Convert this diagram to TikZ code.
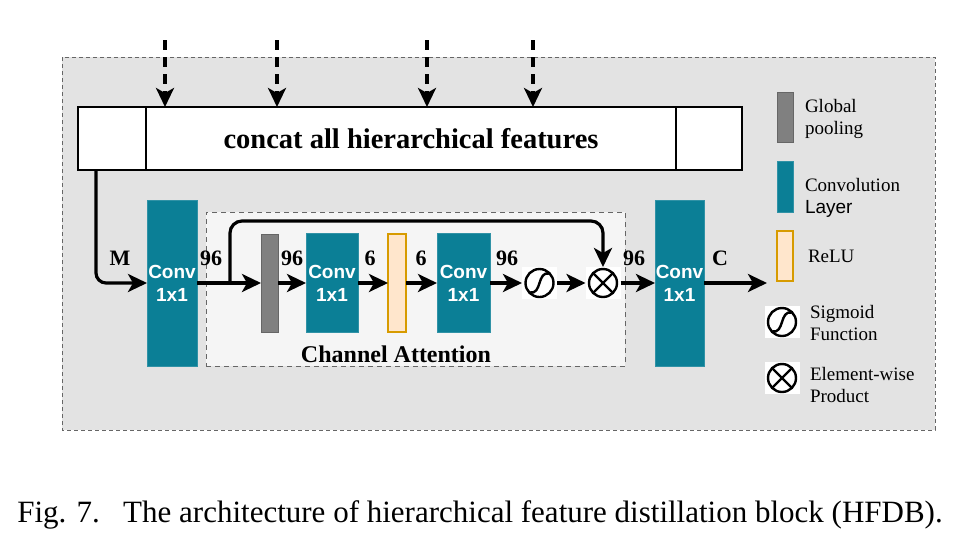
\documentclass[tikz,border=0pt]{standalone}
\usepackage{fontspec}
\setmainfont{Liberation Serif}
\setsansfont{Liberation Sans}
\usetikzlibrary{arrows.meta}
\definecolor{convteal}{RGB}{11,127,150}
\definecolor{poolgray}{RGB}{128,128,128}
\definecolor{relufill}{RGB}{255,230,204}
\definecolor{reluline}{RGB}{215,155,0}
\definecolor{outerfill}{RGB}{227,227,227}
\definecolor{cafill}{RGB}{245,245,245}

\begin{document}
\begin{tikzpicture}
[x=1pt,y=-1pt,%
  every node/.style={inner sep=0pt,outer sep=0pt},%
  conv/.style={rectangle,fill=convteal,draw=convteal!85!white,minimum width=50pt,%
    text=white,align=center,font=\sffamily\bfseries\fontsize{19}{23}\selectfont},%
  pool/.style={rectangle,fill=poolgray,draw=poolgray!80!black,line width=1pt,%
    minimum width=17pt,minimum height=98pt},%
  relu/.style={rectangle,fill=relufill,draw=reluline,line width=1.2pt,%
    minimum width=18pt,minimum height=98pt},%
  icon/.style={rectangle,fill=white,minimum width=35pt,minimum height=32pt},%
  sig/.style={icon,path picture={%
    \draw[line width=2.4pt] (path picture bounding box.center) circle (14pt);
    \draw[line width=2.4pt] ([shift={(-10pt,-9.5pt)}]path picture bounding box.center)
      .. controls ([shift={(3pt,-12pt)}]path picture bounding box.center)
      and ([shift={(-3pt,12pt)}]path picture bounding box.center)
      .. ([shift={(10pt,9.5pt)}]path picture bounding box.center);}},%
  prod/.style={icon,path picture={%
    \draw[line width=2.4pt] (path picture bounding box.center) circle (14pt);
    \draw[line width=2.4pt] ([shift={(-9.9pt,-9.9pt)}]path picture bounding box.center)
      -- ([shift={(9.9pt,9.9pt)}]path picture bounding box.center);
    \draw[line width=2.4pt] ([shift={(-9.9pt,9.9pt)}]path picture bounding box.center)
      -- ([shift={(9.9pt,-9.9pt)}]path picture bounding box.center);}},%
  concat/.style={rectangle,draw,fill=white,line width=1.3pt,minimum height=63pt},%
  lbl/.style={font=\bfseries\fontsize{22}{22}\selectfont},%
  legend/.style={anchor=west,align=left,font=\fontsize{19}{22}\selectfont},%
  arr/.style={-{Stealth[length=19pt,width=18pt,inset=5pt]},line width=3.2pt},%
  dasharr/.style={arr,dash pattern=on 10pt off 7pt}]
\useasboundingbox (0,0) rectangle (962,558);
\draw[fill=outerfill,draw=black!60,line width=0.8pt,dash pattern=on 4pt off 3pt]
  (62,57) rectangle (935,430);
\node[rectangle,fill=cafill,draw=black!60,line width=0.9pt,dash pattern=on 5pt off 4pt,
  minimum width=419pt,minimum height=154pt] (ca) at (415.5,289) {};
\node[font=\bfseries\fontsize{24}{24}\selectfont] (catext) at (396,354) {Channel Attention};

\node[concat,minimum width=68pt] (cl) at (112,138.5) {};
\node[concat,minimum width=530pt,font=\bfseries\fontsize{28.5}{28.5}\selectfont]
  (cm) at (411,138.5) {concat all hierarchical features};
\node[concat,minimum width=66pt] (cr) at (709,138.5) {};
\foreach \i/\x in {1/165,2/277,3/427,4/533}{
  \coordinate (in\i) at (\x,40);
  \draw[dasharr] (in\i) -- (in\i |- cm.north);
}

\node[conv,minimum height=166pt] (conv1) at (172,283) {Conv\\1x1};
\node[pool] (gpool) at (269.5,283) {};
\node[conv,minimum width=52pt,minimum height=99pt] (conv2) at (332,283) {Conv\\1x1};
\node[relu] (relu) at (397,283) {};
\node[conv,minimum width=53pt,minimum height=99pt] (conv3) at (463.5,283) {Conv\\1x1};
\node[sig] (sigm) at (539.5,283) {};
\node[prod] (mul) at (603,283) {};
\node[conv,minimum width=49pt,minimum height=166pt] (conv4) at (679.5,283) {Conv\\1x1};
\coordinate (br) at (230,283);
\coordinate (out) at (767,283);

\draw[arr,rounded corners=10pt] ([xshift=-16pt]cl.south) |- (conv1);
\draw[arr] (conv1) -- (gpool);
\draw[arr,rounded corners=12pt] (br) -- ++(0,-62) -| (mul);
\draw[arr] (gpool) -- (conv2);
\draw[arr] (conv2) -- (relu);
\draw[arr] (relu) -- (conv3);
\draw[arr] (conv3) -- (sigm);
\draw[arr] (sigm) -- (mul);
\draw[arr] (mul) -- (conv4);
\draw[arr] (conv4) -- (out);

\node[lbl] (lm) at (120,258) {M};
\node[lbl] (l1) at (211,258) {96};
\node[lbl] (l2) at (292,258) {96};
\node[lbl] (l3) at (370,258) {6};
\node[lbl] (l4) at (421,258) {6};
\node[lbl] (l5) at (507,258) {96};
\node[lbl] (l6) at (634,258) {96};
\node[lbl] (lc) at (720,258) {C};

\node[pool,minimum width=16pt,minimum height=50pt] (kpool) at (785,117) {};
\node[conv,minimum width=16pt,minimum height=51pt] (kconv) at (785,186.5) {};
\node[relu,minimum width=16pt,minimum height=50pt] (krelu) at (785,256) {};
\node[sig] (ksig) at (782,322) {};
\node[prod] (kmul) at (782,378) {};
\node[legend] (tpool) at (805,119) {Global\\pooling};
\node[legend] (tconv) at (805,198) {Convolution\\{\sffamily Layer}};
\node[legend] (trelu) at (808,256) {ReLU};
\node[legend] (tsig) at (810,323) {Sigmoid\\Function};
\node[legend] (tmul) at (810,385) {Element-wise\\Product};

\node[font=\fontsize{31}{31}\selectfont] (cap) at (480,515)
  {Fig. 7.\enspace\ The architecture of hierarchical feature distillation block (HFDB).};
\end{tikzpicture}
\end{document}
